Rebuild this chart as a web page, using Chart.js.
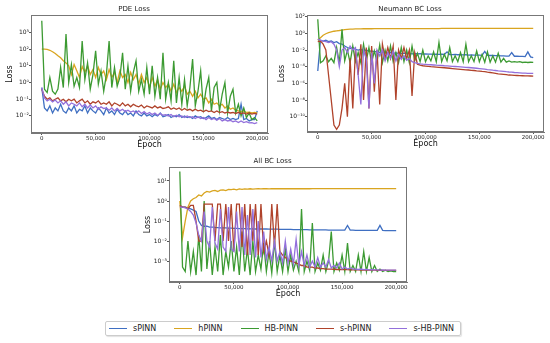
<!DOCTYPE html>
<html>
<head>
<meta charset="utf-8">
<script src="https://cdn.jsdelivr.net/npm/chart.js@4.4.0/dist/chart.umd.min.js"></script>
<style>
  html, body { margin: 0; padding: 0; background: #fff; }
  body { width: 550px; height: 343px; position: relative; overflow: hidden; font-family: "DejaVu Sans", sans-serif; }
  canvas { position: absolute; }
  #legend { position: absolute; left: 105px; top: 321px; height: 13px; padding: 0 6px 0 3px;
            border: 1px solid #ccc; border-radius: 2px; box-shadow: 1px 1px 1px rgba(0,0,0,0.12);
            display: flex; align-items: center; font-size: 8px; color: #222; }
  .item { display: flex; align-items: center; margin-right: 18px; }
  .item:last-child { margin-right: 0; }
  .swatch { width: 18px; height: 1.5px; margin-right: 6px; }
</style>
</head>
<body>
<canvas id="pde" width="272" height="152" style="left:0px;top:0px"></canvas>
<canvas id="nbc" width="274" height="151" style="left:276px;top:0px"></canvas>
<canvas id="abc" width="273" height="149" style="left:138px;top:152px"></canvas>
<div id="legend"></div>
<script>
// Namen en kleuren van de vijf modellen
const names = ['sPINN', 'hPINN', 'HB-PINN', 's-hPINN', 's-HB-PINN'];
const colors = ['#3f6fc2', '#d9a520', '#3c9a32', '#b0432b', '#9370db'];

// x-as: epochs (elke 2500)
const epochs = [0, 2500, 5000, 7500, 10000, 12500, 15000, 17500, 20000, 22500,
  25000, 27500, 30000, 32500, 35000, 37500, 40000, 42500, 45000, 47500,
  50000, 52500, 55000, 57500, 60000, 62500, 65000, 67500, 70000, 72500,
  75000, 77500, 80000, 82500, 85000, 87500, 90000, 92500, 95000, 97500,
  100000, 102500, 105000, 107500, 110000, 112500, 115000, 117500, 120000, 122500,
  125000, 127500, 130000, 132500, 135000, 137500, 140000, 142500, 145000, 147500,
  150000, 152500, 155000, 157500, 160000, 162500, 165000, 167500, 170000, 172500,
  175000, 177500, 180000, 182500, 185000, 187500, 190000, 192500, 195000, 197500,
  200000];
const epochTicks = [0, 50000, 100000, 150000, 200000];

// ---- PDE Loss ----
const pdeTicks = [1e-2, 1e-1, 1, 10, 100, 1000];
const pdeSPINN = [0.5, 0.03, 0.02, 0.04, 0.015, 0.03, 0.02, 0.05, 0.02, 0.015,
  0.03, 0.02, 0.04, 0.015, 0.025, 0.02, 0.04, 0.015, 0.03, 0.02,
  0.015, 0.03, 0.02, 0.012, 0.03, 0.015, 0.02, 0.012, 0.025, 0.015,
  0.012, 0.02, 0.012, 0.015, 0.01, 0.02, 0.012, 0.01, 0.015, 0.01,
  0.012, 0.009, 0.012, 0.01, 0.015, 0.009, 0.01, 0.012, 0.008, 0.01,
  0.009, 0.012, 0.008, 0.01, 0.008, 0.009, 0.007, 0.01, 0.008, 0.009,
  0.007, 0.008, 0.01, 0.007, 0.008, 0.006, 0.008, 0.007, 0.006, 0.008,
  0.006, 0.007, 0.006, 0.007, 0.05, 0.006, 0.007, 0.005, 0.006, 0.006,
  0.02];
const pdeHPINN = [100, 100, 95, 85, 70, 55, 40, 30, 20, 15,
  10, 3, 12, 5, 2, 9, 4, 10, 3, 6,
  2, 8, 3, 5, 1.5, 6, 2, 4, 1, 5,
  2, 3, 1, 4, 1.5, 3, 0.8, 3, 1, 2,
  0.5, 2, 0.6, 1.5, 0.4, 1, 0.5, 0.8, 0.3, 0.8,
  0.25, 0.5, 0.3, 0.6, 0.2, 0.3, 0.15, 0.3, 0.12, 0.2,
  0.1, 0.12, 0.06, 0.1, 0.05, 0.06, 0.04, 0.05, 0.03, 0.04,
  0.025, 0.03, 0.022, 0.02, 0.018, 0.02, 0.016, 0.017, 0.015, 0.016,
  0.015];
const pdeHBPINN = [5000, 0.4, 0.25, 2, 0.3, 0.2, 0.4, 8, 0.5, 800,
  1, 12, 0.6, 2, 0.5, 300, 1.5, 15, 0.4, 3,
  80, 0.8, 5, 0.3, 3, 300, 0.5, 8, 0.6, 2,
  60, 0.4, 10, 0.3, 4, 20, 0.3, 1.5, 0.2, 8,
  0.2, 10, 0.15, 2, 0.1, 60, 0.1, 1, 0.08, 20,
  0.06, 2, 0.05, 1.5, 0.04, 0.5, 25, 0.04, 0.3, 5,
  0.03, 0.4, 2, 0.02, 0.5, 1, 0.02, 0.2, 1, 0.015,
  0.15, 0.4, 0.015, 0.05, 0.01, 0.03, 0.008, 0.015, 0.006, 0.008,
  0.005];
const pdeSHPINN = [0.4, 0.15, 0.1, 0.12, 0.08, 0.1, 0.12, 0.08, 0.1, 0.07,
  0.1, 0.08, 0.1, 0.06, 0.08, 0.1, 0.06, 0.08, 0.05, 0.07,
  0.06, 0.08, 0.05, 0.06, 0.05, 0.07, 0.04, 0.06, 0.05, 0.04,
  0.06, 0.04, 0.05, 0.035, 0.05, 0.04, 0.035, 0.045, 0.03, 0.04,
  0.035, 0.03, 0.04, 0.03, 0.035, 0.028, 0.03, 0.035, 0.025, 0.03,
  0.025, 0.03, 0.022, 0.028, 0.022, 0.025, 0.02, 0.025, 0.02, 0.022,
  0.018, 0.022, 0.018, 0.02, 0.016, 0.02, 0.016, 0.018, 0.015, 0.017,
  0.015, 0.016, 0.014, 0.016, 0.014, 0.015, 0.013, 0.015, 0.013, 0.014,
  0.013];
const pdeSHBPINN = [0.5, 0.12, 0.08, 0.1, 0.07, 0.09, 0.06, 0.08, 0.05, 0.07,
  0.04, 0.06, 0.05, 0.04, 0.06, 0.035, 0.05, 0.03, 0.045, 0.03,
  0.04, 0.025, 0.035, 0.028, 0.03, 0.022, 0.03, 0.02, 0.028, 0.02,
  0.025, 0.018, 0.022, 0.017, 0.02, 0.015, 0.02, 0.014, 0.018, 0.013,
  0.016, 0.012, 0.015, 0.011, 0.014, 0.011, 0.012, 0.01, 0.012, 0.009,
  0.011, 0.009, 0.01, 0.008, 0.01, 0.008, 0.009, 0.007, 0.009, 0.007,
  0.008, 0.006, 0.008, 0.006, 0.007, 0.0055, 0.007, 0.005, 0.006, 0.005,
  0.0055, 0.0045, 0.005, 0.004, 0.005, 0.004, 0.0045, 0.0038, 0.004, 0.0035,
  0.004];

// ---- Neumann BC Loss ----
const nbcTicks = [1e-10, 1e-8, 1e-6, 1e-4, 1e-2, 1, 100];
const nbcSPINN = [3e-5, 0.15, 0.12, 0.15, 0.1, 0.12, 0.08, 0.1, 0.06, 0.05,
  0.03, 0.02, 0.015, 0.02, 0.012, 0.01, 0.012, 0.008, 0.01, 0.007,
  0.008, 0.006, 0.007, 0.005, 0.006, 0.005, 0.0045, 0.005, 0.004, 0.0045,
  0.004, 0.0038, 0.0042, 0.0036, 0.004, 0.0035, 0.0038, 0.0034, 0.0036, 0.0033,
  0.0034, 0.0032, 0.0033, 0.003, 0.0032, 0.003, 0.0031, 0.0029, 0.006, 0.0029,
  0.0028, 0.003, 0.0027, 0.0028, 0.0026, 0.0027, 0.0025, 0.0026, 0.0024, 0.0025,
  0.0024, 0.0023, 0.007, 0.0023, 0.0022, 0.0022, 0.0021, 0.0021, 0.002, 0.002,
  0.0019, 0.0019, 0.005, 0.0018, 0.0018, 0.0017, 0.0017, 0.0016, 0.006, 0.0015,
  0.0012];
const nbcHPINN = [0.15, 0.3, 0.6, 0.9, 1.2, 1.5, 1.8, 2, 2.2, 2.5,
  2.8, 3, 3.2, 3.3, 3.4, 3.5, 3.5, 3.6, 3.6, 3.6,
  3.6, 3.7, 3.7, 3.7, 3.7, 3.7, 3.8, 3.8, 3.8, 3.8,
  3.8, 3.8, 3.8, 3.8, 3.8, 3.8, 3.8, 3.8, 3.8, 3.8,
  3.8, 3.8, 3.8, 3.8, 3.8, 3.8, 3.9, 3.9, 3.9, 3.9,
  3.9, 3.9, 3.9, 3.9, 3.9, 3.9, 3.9, 3.9, 3.9, 3.9,
  3.9, 3.9, 3.9, 3.9, 3.9, 3.9, 3.9, 3.9, 3.9, 3.9,
  3.9, 3.9, 3.9, 3.9, 3.9, 3.9, 3.9, 3.9, 3.9, 3.9,
  3.9];
const nbcHBPINN = [50, 3e-4, 5e-4, 2e-3, 4e-4, 1e-3, 3e-4, 0.02, 3e-4, 3,
  5e-4, 0.01, 3e-4, 0.03, 4e-4, 0.005, 3e-4, 0.05, 5e-4, 0.02,
  3e-4, 0.008, 4e-4, 0.04, 3e-4, 0.01, 5e-4, 0.03, 4e-4, 0.005,
  3e-4, 0.02, 4e-4, 0.01, 3e-4, 0.03, 5e-4, 0.004, 4e-4, 0.01,
  4e-4, 0.002, 5e-4, 0.006, 4e-4, 0.08, 4e-4, 0.003, 5e-4, 0.02,
  4e-4, 0.002, 4e-4, 0.005, 4e-4, 0.05, 4e-4, 0.002, 4e-4, 0.008,
  4e-4, 0.003, 3.5e-4, 0.006, 3.5e-4, 0.002, 3.5e-4, 0.004, 3.5e-4, 0.001,
  3.5e-4, 5e-4, 3.5e-4, 4e-4, 3.5e-4, 4e-4, 3.2e-4, 3.6e-4, 3.2e-4, 3.4e-4,
  3.3e-4];
const nbcSHPINN = [0.1, 0.12, 0.05, 0.01, 1e-5, 1e-8, 1e-11, 3e-12, 1e-11, 1e-9,
  1e-6, 1e-10, 1e-3, 1e-9, 0.01, 1e-5, 0.05, 1e-8, 0.02, 1e-9,
  0.03, 1e-7, 0.01, 3e-9, 0.05, 1e-3, 0.02, 1e-3, 0.03, 1e-8,
  0.01, 1e-3, 0.02, 1e-3, 0.01, 3e-8, 0.005, 2e-4, 1.5e-4, 1.3e-4,
  1.2e-4, 1.1e-4, 1e-4, 9.5e-5, 9e-5, 8.5e-5, 8e-5, 7.5e-5, 7e-5, 6.5e-5,
  6e-5, 5.6e-5, 5.2e-5, 4.8e-5, 4.5e-5, 4.2e-5, 4e-5, 3.7e-5, 3.5e-5, 3.2e-5,
  3e-5, 2.7e-5, 2.5e-5, 2.2e-5, 2e-5, 1.8e-5, 1.6e-5, 1.4e-5, 1.3e-5, 1.2e-5,
  1.1e-5, 1e-5, 9.5e-6, 9e-6, 8.8e-6, 8.5e-6, 8.2e-6, 8e-6, 7.8e-6, 7.6e-6,
  7.5e-6];
const nbcSHBPINN = [0.2, 0.15, 0.12, 0.1, 0.08, 0.1, 0.05, 0.01, 1e-4, 0.01,
  0.02, 0.005, 0.03, 0.01, 0.02, 1e-5, 3e-9, 0.01, 1e-3, 1e-9,
  0.005, 1e-6, 0.01, 0.002, 0.01, 5e-4, 0.005, 1e-3, 0.008, 5e-4,
  0.003, 8e-4, 0.002, 6e-4, 0.001, 4e-4, 3e-4, 2.5e-4, 2.2e-4, 2e-4,
  1.9e-4, 1.8e-4, 1.7e-4, 1.6e-4, 1.5e-4, 1.45e-4, 1.4e-4, 1.3e-4, 1.25e-4, 1.2e-4,
  1.1e-4, 1.05e-4, 1e-4, 9.5e-5, 9e-5, 8.5e-5, 8e-5, 7.5e-5, 7e-5, 6.5e-5,
  6e-5, 5.5e-5, 5e-5, 4.5e-5, 4.2e-5, 3.8e-5, 3.5e-5, 3.2e-5, 3e-5, 2.8e-5,
  2.5e-5, 2.3e-5, 2.2e-5, 2e-5, 1.9e-5, 1.8e-5, 1.7e-5, 1.65e-5, 1.6e-5, 1.6e-5,
  1.6e-5];

// ---- All BC Loss ----
const abcTicks = [1e-3, 1e-2, 1e-1, 1, 10];
const abcSPINN = [0.6, 0.5, 0.5, 0.45, 0.4, 0.35, 0.3, 0.1, 0.06, 0.055,
  0.055, 0.05, 0.05, 0.048, 0.047, 0.046, 0.045, 0.045, 0.044, 0.044,
  0.043, 0.043, 0.042, 0.042, 0.042, 0.041, 0.041, 0.041, 0.04, 0.04,
  0.04, 0.04, 0.04, 0.039, 0.039, 0.039, 0.039, 0.038, 0.038, 0.038,
  0.038, 0.038, 0.037, 0.037, 0.037, 0.037, 0.037, 0.037, 0.036, 0.036,
  0.036, 0.036, 0.036, 0.036, 0.036, 0.035, 0.035, 0.035, 0.035, 0.035,
  0.035, 0.035, 0.06, 0.035, 0.035, 0.034, 0.034, 0.034, 0.034, 0.034,
  0.034, 0.034, 0.034, 0.034, 0.06, 0.034, 0.033, 0.033, 0.033, 0.033,
  0.033];
const abcHPINN = [1, 0.015, 0.1, 0.5, 1, 1.3, 1.5, 2, 1.8, 2.5,
  3, 2.8, 3.2, 3.4, 3, 3.5, 3.6, 3.3, 3.8, 3.7,
  3.9, 3.6, 4, 3.8, 4, 3.9, 4.1, 3.9, 4, 4.1,
  4, 4.1, 4.1, 4, 4.1, 4.1, 4.1, 4.1, 4.1, 4.1,
  4.1, 4.1, 4.1, 4.1, 4.2, 4.1, 4.1, 4.2, 4.1, 4.2,
  4.2, 4.2, 4.2, 4.2, 4.2, 4.2, 4.2, 4.2, 4.2, 4.2,
  4.2, 4.2, 4.2, 4.2, 4.2, 4.2, 4.2, 4.2, 4.2, 4.2,
  4.2, 4.2, 4.2, 4.2, 4.2, 4.2, 4.2, 4.2, 4.2, 4.2,
  4.2];
const abcHBPINN = [30, 5e-4, 3e-4, 0.01, 3e-4, 0.003, 2e-4, 0.02, 3e-4, 1,
  4e-4, 0.01, 2e-4, 0.005, 3e-4, 0.02, 2e-4, 0.003, 5e-4, 0.01,
  3e-4, 0.005, 2e-4, 0.03, 3e-4, 0.004, 2e-4, 0.01, 3e-4, 0.002,
  4e-4, 0.008, 3e-4, 0.003, 2.5e-4, 0.01, 3e-4, 0.002, 3e-4, 0.004,
  3e-4, 0.002, 3.5e-4, 0.001, 3e-4, 0.4, 3e-4, 0.001, 3.5e-4, 0.08,
  3e-4, 8e-4, 3.5e-4, 0.002, 3e-4, 0.001, 0.03, 3e-4, 8e-4, 3.5e-4,
  0.002, 3e-4, 0.008, 3e-4, 6e-4, 3e-4, 0.002, 3e-4, 0.003, 3e-4,
  0.0015, 3e-4, 6e-4, 3e-4, 4e-4, 3e-4, 3.5e-4, 3e-4, 3.2e-4, 3e-4,
  3e-4];
const abcSHPINN = [0.6, 0.5, 0.5, 0.4, 0.6, 0.6, 0.1, 0.01, 0.01, 0.7,
  0.7, 0.7, 0.7, 0.01, 0.7, 0.7, 0.01, 0.7, 0.01, 0.7,
  0.003, 0.7, 0.7, 0.005, 0.7, 0.002, 0.7, 0.01, 0.7, 0.002,
  0.7, 0.003, 0.01, 0.002, 0.7, 0.005, 0.7, 0.003, 0.002, 0.0015,
  0.0012, 0.001, 0.0009, 0.0008, 0.0007, 0.0006, 0.0006, 0.0005, 0.0005, 0.0005,
  4.5e-4, 4.5e-4, 4.2e-4, 4.2e-4, 4e-4, 4e-4, 4e-4, 3.9e-4, 3.8e-4, 3.8e-4,
  3.7e-4, 3.7e-4, 3.7e-4, 3.6e-4, 3.6e-4, 3.6e-4, 3.6e-4, 3.5e-4, 3.5e-4, 3.5e-4,
  3.5e-4, 3.5e-4, 3.5e-4, 3.4e-4, 3.4e-4, 3.4e-4, 3.4e-4, 3.4e-4, 3.4e-4, 3.4e-4,
  3.4e-4];
const abcSHBPINN = [0.5, 0.5, 0.45, 0.4, 0.3, 0.2, 0.08, 0.02, 0.01, 0.3,
  0.01, 0.005, 0.5, 0.008, 0.004, 0.4, 0.005, 0.003, 0.5, 0.004,
  0.003, 0.3, 0.003, 0.5, 0.002, 0.2, 0.002, 0.4, 0.0015, 0.1,
  0.0015, 0.03, 0.0012, 0.005, 0.001, 0.01, 0.001, 0.003, 0.0008, 0.01,
  0.0008, 0.004, 0.0007, 0.012, 0.0006, 0.003, 0.0006, 0.002, 0.0005, 0.001,
  0.0005, 0.0015, 0.0005, 0.0008, 0.0005, 0.0012, 0.00045, 0.0006, 0.00045, 0.0008,
  0.0004, 0.0005, 0.0004, 0.00045, 0.0004, 0.0004, 0.00038, 0.0004, 0.00037, 0.00038,
  0.00036, 0.00037, 0.00036, 0.00036, 0.00035, 0.00036, 0.00035, 0.00035, 0.00035, 0.00035,
  0.00035];

const FONT = 'DejaVu Sans';
const SUP = {'-': '\u207B', '0': '\u2070', '1': '\u00B9', '2': '\u00B2', '3': '\u00B3',
  '4': '\u2074', '5': '\u2075', '6': '\u2076', '7': '\u2077', '8': '\u2078', '9': '\u2079'};

function powLabel(v) {
  const e = String(Math.round(Math.log10(v)));
  return '10' + e.split('').map(c => SUP[c]).join('');
}

// kader rondom het plotgebied (zoals matplotlib)
const frame = {
  id: 'frame',
  afterDraw(chart) {
    const a = chart.chartArea, ctx = chart.ctx;
    ctx.save();
    ctx.strokeStyle = '#777';
    ctx.lineWidth = 1;
    ctx.strokeRect(Math.round(a.left) + 0.5, Math.round(a.top) + 0.5,
      Math.round(a.right - a.left) - 1, Math.round(a.bottom - a.top) - 1);
    ctx.restore();
  }
};

function makeChart(id, title, series, yTicks, yMin, yMax, padRight, lossPad) {
  return new Chart(document.getElementById(id), {
    type: 'line',
    data: {
      datasets: series.map((vals, k) => ({
        label: names[k],
        data: epochs.map((e, i) => ({ x: e, y: vals[i] })),
        borderColor: colors[k],
        borderWidth: 1.3,
        pointRadius: 0,
        tension: 0,
        fill: false,
        order: names.length - k
      }))
    },
    options: {
      responsive: false,
      animation: false,
      events: [],
      layout: { padding: { right: padRight } },
      plugins: {
        legend: { display: false },
        tooltip: { enabled: false },
        title: {
          display: true, text: title, color: '#222',
          font: { family: FONT, size: 7, weight: 'normal' },
          padding: { top: 4.8, bottom: 1.8 }
        }
      },
      scales: {
        x: {
          type: 'linear', min: -10000, max: 210000,
          afterBuildTicks: s => { s.ticks = epochTicks.map(v => ({ value: v })); },
          afterFit: s => { s.height = 19; },
          ticks: {
            callback: v => v.toLocaleString('en-US'),
            font: { family: FONT, size: 5.5 }, color: '#222',
            padding: 0, maxRotation: 0, autoSkip: false
          },
          grid: { drawOnChartArea: false, tickLength: 2, color: '#555' },
          border: { color: '#777' },
          title: { display: true, text: 'Epoch', color: '#111',
            font: { family: FONT, size: 8 }, padding: { top: 0, bottom: 2.2 } }
        },
        y: {
          type: 'logarithmic', min: yMin, max: yMax,
          afterBuildTicks: s => { s.ticks = yTicks.map(v => ({ value: v })); },
          afterFit: s => { s.width = 31; },
          ticks: {
            callback: v => powLabel(v),
            font: { family: FONT, size: 6 }, color: '#222',
            padding: 0, autoSkip: false
          },
          grid: { drawOnChartArea: false, tickLength: 2, color: '#555' },
          border: { color: '#777' },
          title: { display: true, text: 'Loss', color: '#111',
            font: { family: FONT, size: 8 }, padding: { top: lossPad, bottom: 0 } }
        }
      }
    },
    plugins: [frame]
  });
}

makeChart('pde', 'PDE Loss', [pdeSPINN, pdeHPINN, pdeHBPINN, pdeSHPINN, pdeSHBPINN],
  pdeTicks, 9.5e-4, 1.1e4, 4, 5.2);
makeChart('nbc', 'Neumann BC Loss', [nbcSPINN, nbcHPINN, nbcHBPINN, nbcSHPINN, nbcSHBPINN],
  nbcTicks, 1.45e-12, 160, 6, 1.2);
makeChart('abc', 'All BC Loss', [abcSPINN, abcHPINN, abcHBPINN, abcSHPINN, abcSHBPINN],
  abcTicks, 9e-5, 50, 4, 5.2);

// gedeelde legenda onderaan
const legend = document.getElementById('legend');
names.forEach((n, k) => {
  const item = document.createElement('div');
  item.className = 'item';
  const sw = document.createElement('span');
  sw.className = 'swatch';
  sw.style.background = colors[k];
  const txt = document.createElement('span');
  txt.textContent = n;
  item.appendChild(sw);
  item.appendChild(txt);
  legend.appendChild(item);
});
</script>
</body>
</html>
